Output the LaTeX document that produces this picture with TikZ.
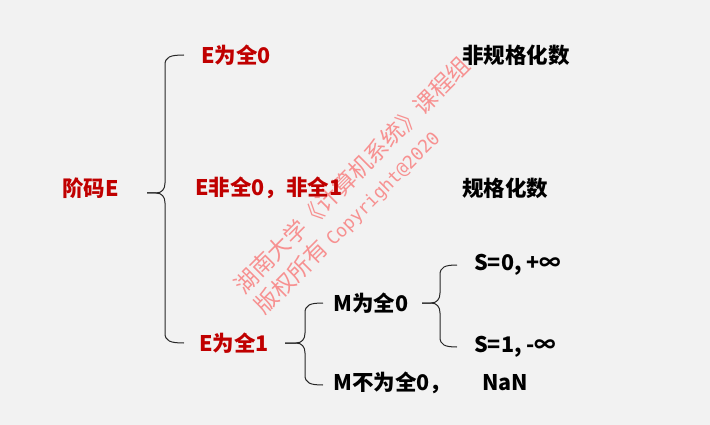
\documentclass[tikz,border=0pt]{standalone}
\usepackage{fontspec}
\newfontfamily\cjk{Noto Sans CJK SC}
\newfontfamily\wmmono{DejaVu Sans Mono}
\definecolor{bg}{HTML}{F2F2F2}
\definecolor{darkred}{HTML}{C00000}
\definecolor{wmcol}{RGB}{247,145,145}
\newcommand\mybrace[6]{% tipx tipy spinex topy boty endx
\draw[bracestyle] (#6,#4) .. controls ({#3+5},#4) and (#3,{#4+2}) .. (#3,{#4+10})
  -- (#3,{#2-10}) .. controls (#3,{#2-4}) and ({#3-3},#2) .. ({#3-9},#2) -- (#1,#2);
\draw[bracestyle] (#1,#2) -- ({#3-9},#2) .. controls ({#3-3},#2) and (#3,{#2+4}) .. (#3,{#2+10})
  -- (#3,{#5-10}) .. controls (#3,{#5-2}) and ({#3+5},#5) .. (#6,#5);}
\begin{document}
\begin{tikzpicture}[x=1pt,y=-1pt,
  lbl/.style={font=\cjk\bfseries\fontsize{21.5}{25}\selectfont, inner sep=0pt, anchor=west},
  redlbl/.style={lbl, text=darkred},
  blk/.style={lbl, text=black},
  bracestyle/.style={draw=black!85, line width=1pt}]
\fill[bg] (0,0) rectangle (710,425);
\useasboundingbox (0,0) rectangle (710,425);
% watermark
\node[text=wmcol, rotate=45, align=left, inner sep=0pt,
      font=\cjk\fontsize{23}{29}\selectfont] (wm) at (363,186)
      {湖南大学《计算机系统》课程组\\版权所有 {\wmmono\fontsize{18}{29}\selectfont Copyright@2020}};
% braces
\mybrace{147}{193}{165}{55}{343}{184}
\mybrace{285}{343}{305}{303}{385}{323}
\mybrace{422}{303}{440}{265}{347}{457}
% labels
\node[redlbl] (jm) at (62,188) {阶码E};
\node[redlbl] (e0) at (201,55) {E为全0};
\node[blk] (fg) at (462,55) {非规格化数};
\node[redlbl] (en) at (195,188) {E非全0，非全1};
\node[blk] (gg) at (462,188) {规格化数};
\node[redlbl] (e1) at (199,343) {E为全1};
\node[blk] (m0) at (333,303) {M为全0};
\node[blk] (s0) at (474,265) {S=0, +∞};
\node[blk] (s1) at (474,347) {S=1, -∞};
\node[blk] (mn) at (333,383) {M不为全0，\hspace{31pt}NaN};
\end{tikzpicture}
\end{document}
